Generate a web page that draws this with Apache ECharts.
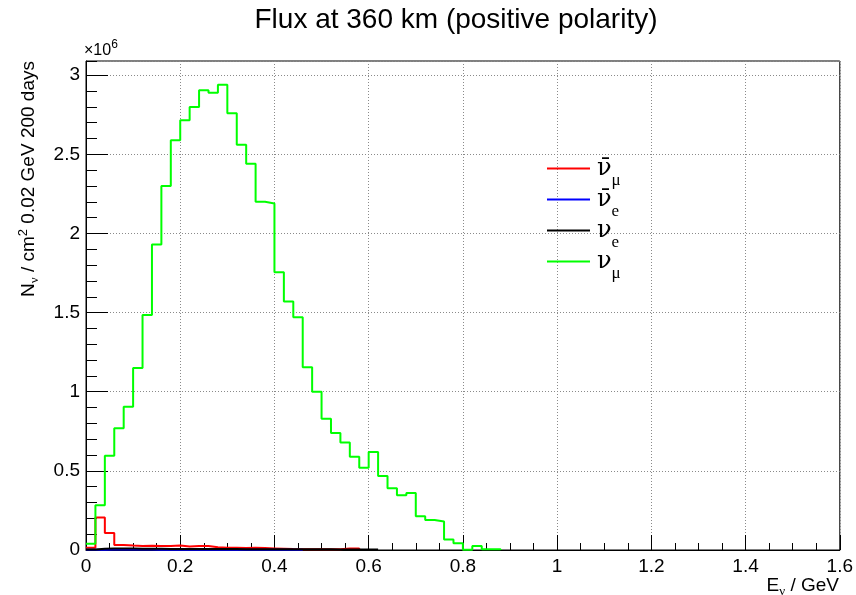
<!DOCTYPE html>
<html><head><meta charset="utf-8">
<script src="https://cdn.jsdelivr.net/npm/echarts@6/dist/echarts.min.js"></script>
<style>html,body{margin:0;padding:0;background:#fff}#c{width:856px;height:595px}</style>
</head><body><div id="c"></div>
<script>
// ---- data (bin contents in units of 1e6, bins of 0.02 GeV starting at 0) ----
const binWidth = 0.02;
const yUnit = 1e6;
const antiNumu = [0.015, 0.205, 0.108, 0.032, 0.028, 0.026, 0.027, 0.026, 0.025, 0.028,
                  0.022, 0.026, 0.025, 0.018, 0.015, 0.014, 0.013, 0.014, 0.012, 0.010,
                  0.008, 0.006, 0.005, 0.005, 0.005, 0.004, 0.005, 0.009, 0.010];
const antiNue = [0.002, 0.002, 0.003, 0.003, 0.003, 0.003, 0.003, 0.002, 0.002, 0.002,
                 0.002, 0.002, 0.002, 0.002, 0.002, 0.002, 0.002, 0.002, 0.001, 0.001,
                 0.001, 0.001, 0.001];
const nue = [0.003, 0.008, 0.009, 0.009, 0.009, 0.008, 0.008, 0.008, 0.007, 0.007,
             0.007, 0.007, 0.006, 0.006, 0.006, 0.006, 0.005, 0.005, 0.005, 0.005,
             0.005, 0.004, 0.004, 0.004, 0.004, 0.004, 0.003, 0.003, 0.003, 0.003, 0.003];
const numu = [0.04, 0.283, 0.595, 0.77, 0.905, 1.15, 1.485, 1.93, 2.30, 2.59,
              2.715, 2.80, 2.905, 2.89, 2.94, 2.76, 2.56, 2.44, 2.20, 2.19,
              1.755, 1.57, 1.47, 1.155, 1.00, 0.83, 0.74, 0.68, 0.59, 0.52,
              0.62, 0.467, 0.39, 0.346, 0.36, 0.213, 0.19, 0.18, 0.067, 0.042,
              0.002, 0.025, 0.005, 0.005];
const seriesNames = ['antiNumu', 'antiNue', 'nue', 'numu'];
const seriesColors = ['#ff0000', '#0000ff', '#000000', '#00ff00'];
const legendLabels = {
  antiNumu: '{nu|ν\u0304}{sub|μ}',
  antiNue: '{nu|ν\u0304}{sub|e}',
  nue: '{nu|ν}{sub|e}',
  numu: '{nu|ν}{sub|μ}'
};
const xMin = 0, xMax = 1.6, xStep = 0.2;
const yMin = 0, yMax = 3.09, yStep = 0.5, yMinorStep = 0.1;
const titleText = 'Flux at 360 km (positive polarity)';

function histPoints(vals) {
  const pts = vals.map((v, i) => [+(i * binWidth).toFixed(4), v * yUnit]);
  const xe = +(vals.length * binWidth).toFixed(4);
  pts.push([xe, vals[vals.length - 1] * yUnit]);
  pts.push([xe, 0]);
  return pts;
}
const allData = [antiNumu, antiNue, nue, numu];

const SANS = 'Liberation Sans, Arial, Helvetica, sans-serif';
const SERIF = 'Liberation Serif, DejaVu Serif, serif';
const GREEK = 'DejaVu Serif, Liberation Serif, serif';
const grid = {left: 86, right: 16, top: 61, bottom: 45, show: true, borderColor: '#000', borderWidth: 1, backgroundColor: 'transparent'};
const gridLine = {color: '#8a8a8a', width: 1, type: [1, 2]};

const chart = echarts.init(document.getElementById('c'), null, {renderer: 'canvas'});
chart.setOption({
  animation: false,
  backgroundColor: '#fff',
  grid: grid,
  xAxis: [{
    type: 'value', min: xMin, max: xMax, interval: xStep,
    axisLine: {show: true, onZero: false, lineStyle: {color: '#000', width: 1}},
    axisTick: {show: true, inside: true, length: 15, lineStyle: {color: '#000', width: 1}},
    minorTick: {show: true, splitNumber: 4, length: 7, lineStyle: {color: '#000', width: 1}},
    splitLine: {show: true, lineStyle: gridLine},
    axisLabel: {color: '#000', fontSize: 19, fontFamily: SANS, margin: 7,
      formatter: v => String(Math.round(v * 10) / 10)}
  }],
  yAxis: [{
    type: 'value', min: yMin * yUnit, max: yMax * yUnit, interval: yStep * yUnit,
    axisLine: {show: true, onZero: false, lineStyle: {color: '#000', width: 1}},
    axisTick: {show: true, inside: true, length: 22, lineStyle: {color: '#000', width: 1}},
    splitLine: {show: true, lineStyle: gridLine},
    axisLabel: {color: '#000', fontSize: 19, fontFamily: SANS, margin: 6, showMaxLabel: false,
      formatter: v => (v > 3.05 * yUnit ? '' : String(Math.round(v / yUnit * 10) / 10))}
  }, {
    type: 'value', min: yMin * yUnit, max: yMax * yUnit, interval: yMinorStep * yUnit, position: 'left',
    axisLine: {show: false},
    axisTick: {show: true, inside: true, length: 11, lineStyle: {color: '#000', width: 1}},
    splitLine: {show: false},
    axisLabel: {show: false}
  }],
  legend: {
    orient: 'vertical', left: 547, top: 148, itemWidth: 43, itemHeight: 2, itemGap: -10,
    icon: 'rect', padding: 0,
    data: seriesNames,
    formatter: name => legendLabels[name],
    textStyle: {color: '#000', fontSize: 24, fontFamily: GREEK, lineHeight: 24,
      rich: {
        nu: {fontSize: 24, fontFamily: GREEK, color: '#000', lineHeight: 24, padding: [0, 0, 0, 2]},
        sub: {fontSize: 17, fontFamily: SERIF, color: '#000', lineHeight: 24, padding: [24, 0, 0, 0]}
      }}
  },
  graphic: [
    {type: 'text', x: 456, y: 20, style: {text: titleText, fill: '#000', font: '28px ' + SANS, textAlign: 'center', textVerticalAlign: 'middle'}},
    {type: 'text', x: 84, y: 51, style: {text: '×10{sup|6}', fill: '#000', font: '16px ' + SANS, textAlign: 'left', textVerticalAlign: 'middle',
      rich: {sup: {fontSize: 12, fontFamily: SANS, fill: '#000', lineHeight: 16, padding: [0, 0, 12, 0]}}}},
    {type: 'text', x: 29, y: 61, rotation: Math.PI / 2, style: {text: 'N{sub|ν} / cm{sup|2} 0.02 GeV 200 days', fill: '#000', font: '19px ' + SANS,
      textAlign: 'right', textVerticalAlign: 'middle',
      rich: {sub: {fontSize: 13, fontFamily: SERIF, fill: '#000', lineHeight: 19, padding: [12, 0, 0, 0]},
             sup: {fontSize: 13, fontFamily: SANS, fill: '#000', lineHeight: 19, padding: [0, 0, 12, 0]}}}},
    {type: 'text', x: 839, y: 586, style: {text: 'E{sub|ν} / GeV', fill: '#000', font: '19px ' + SANS,
      textAlign: 'right', textVerticalAlign: 'middle',
      rich: {sub: {fontSize: 13, fontFamily: SERIF, fill: '#000', lineHeight: 19, padding: [12, 0, 0, 0]}}}}
  ],
  series: seriesNames.map((n, i) => ({
    name: n, type: 'line', step: 'end', xAxisIndex: 0, yAxisIndex: 0,
    data: histPoints(allData[i]), symbol: 'none', showSymbol: false,
    color: seriesColors[i],
    lineStyle: {color: seriesColors[i], width: 2},
    itemStyle: {color: seriesColors[i]},
    clip: true, z: 3 + i
  }))
});
</script></body></html>
